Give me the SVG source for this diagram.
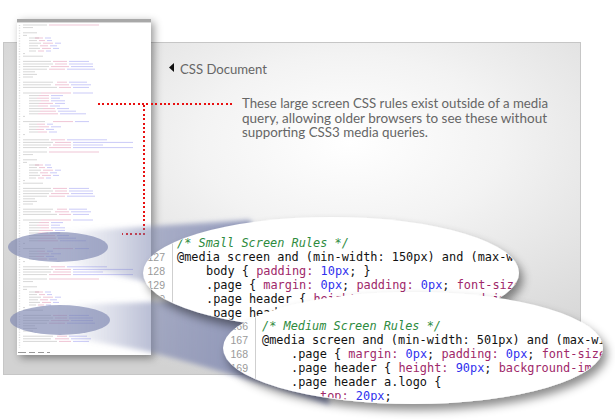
<svg xmlns="http://www.w3.org/2000/svg" xmlns:xlink="http://www.w3.org/1999/xlink" width="615" height="420" viewBox="0 0 615 420">
<style>
.ttl{font-family:Lato,"Open Sans","Liberation Sans",sans-serif;fill:#666}
.code{font-family:"DejaVu Sans Mono","Liberation Mono",monospace;font-size:11.9px;fill:#111;white-space:pre}
.cm{fill:#2e8b3e;font-style:italic}
.p{fill:#a0286a}
.v{fill:#3030ee}
.ln{font-family:"Liberation Sans",Arial,sans-serif;font-size:10.5px;fill:#9a9a9a;text-anchor:end}
.gut{stroke:#cfcfcf;stroke-width:1}
.dg{fill:none;stroke:#9a9a9a;stroke-width:0.8;opacity:0.5}
.dr{fill:none;stroke:#d05a8a;stroke-width:0.8;opacity:0.45}
.db{fill:none;stroke:#6a6ae8;stroke-width:0.8;opacity:0.45}
.dot{fill:none;stroke:#e81010;stroke-width:2;stroke-dasharray:2 2.4;shape-rendering:crispEdges}
</style>
<defs>
<radialGradient id="panelG" cx="0.6" cy="0.3" r="0.75">
<stop offset="0" stop-color="#ffffff"/>
<stop offset="0.35" stop-color="#f3f3f3"/>
<stop offset="1" stop-color="#d2d2d2"/>
</radialGradient>
<linearGradient id="beamG" gradientUnits="userSpaceOnUse" x1="60" y1="0" x2="250" y2="0">
<stop offset="0" stop-color="#7d86b0" stop-opacity="0"/>
<stop offset="0.3" stop-color="#7d86b0" stop-opacity="0.3"/>
<stop offset="0.55" stop-color="#7d86b0" stop-opacity="0.62"/>
<stop offset="1" stop-color="#7d86b0" stop-opacity="0.8"/>
</linearGradient>
<filter id="soft" x="-10%" y="-10%" width="120%" height="120%"><feGaussianBlur stdDeviation="2.5"/></filter>
<filter id="docSh" x="-20%" y="-10%" width="140%" height="120%">
<feGaussianBlur in="SourceAlpha" stdDeviation="4"/><feOffset dx="3" dy="3" result="b"/>
<feFlood flood-color="#000" flood-opacity="0.4"/><feComposite in2="b" operator="in"/>
<feMerge><feMergeNode/><feMergeNode in="SourceGraphic"/></feMerge>
</filter>
<filter id="eSh" x="-20%" y="-40%" width="140%" height="190%">
<feGaussianBlur in="SourceAlpha" stdDeviation="5"/><feOffset dx="4" dy="6" result="b"/>
<feFlood flood-color="#000" flood-opacity="0.45"/><feComposite in2="b" operator="in"/>
<feMerge><feMergeNode/><feMergeNode in="SourceGraphic"/></feMerge>
</filter>
<clipPath id="c1"><ellipse cx="331" cy="273" rx="188" ry="55"/></clipPath>
<clipPath id="c2"><ellipse cx="413" cy="348" rx="190" ry="55"/></clipPath>
<g id="blkA">
<path class="dg" d="M0 0h24M0 2.6h10M0 7.8h14M0 10.4h4M6 13h10M6 15.6h8M6 18.2h12M6 20.8h9M6 23.4h11M6 26h7M0 28.6h2M0 31.2h20M0 36.4h28M0 39h30M0 41.6h26M0 44.2h24M0 46.8h12M0 49.4h14M0 52h10M0 57.2h30M0 59.8h28M0 62.4h34"/>
<path class="dr" d="M26 0h50M12 13h8M16 15.6h6M20 18.2h10M17 20.8h8M19 23.4h9M15 26h6M30 36.4h14M32 39h12M28 41.6h18M26 44.2h16M34 57.2h10M32 59.8h14M36 62.4h12"/>
<path class="db" d="M22 13h6M24 15.6h5M32 18.2h6M27 20.8h7M30 23.4h6M23 26h5M46 36.4h20M46 39h24M48 41.6h22M44 44.2h28M46 57.2h18M48 59.8h20M50 62.4h16"/>
</g>
<g id="blkB">
<path class="dg" d="M0 0h18M6 2.6h10M6 5.2h8M6 7.8h12M6 10.4h10M6 13h9M6 15.6h14M6 18.2h11M6 20.8h9M0 23.4h2M0 28.6h22M6 31.2h8M6 33.8h10M6 36.4h7M6 39h9M0 41.6h2M0 46.8h26M0 49.4h30M0 52h28M0 54.6h24"/>
<path class="dr" d="M18 0h30M16 2.6h10M14 5.2h12M18 7.8h8M16 10.4h14M15 13h10M20 15.6h12M17 18.2h16M15 20.8h20M30 28.6h20M14 31.2h8M16 33.8h10M13 36.4h8M15 39h9M28 46.8h14M32 49.4h16M30 52h18M26 54.6h22"/>
<path class="db" d="M50 0h20M28 2.6h12M28 5.2h9M28 7.8h14M32 10.4h10M27 13h10M34 15.6h12M35 18.2h18M37 20.8h26M52 28.6h14M24 31.2h6M28 33.8h10M23 36.4h8M26 39h8M44 46.8h40M50 49.4h60M50 52h30M50 54.6h60"/>
</g>
</defs>

<rect width="615" height="420" fill="#ffffff"/>
<g id="panel">
<rect x="3.5" y="42.5" width="577" height="332" fill="url(#panelG)" stroke="#c6c6c6" stroke-width="1"/>
</g>

<g id="title">
<path d="M169 67.5L174 63V72Z" fill="#111"/>
<text class="ttl" x="180" y="73.5" font-size="14" textLength="87" lengthAdjust="spacingAndGlyphs">CSS Document</text>
</g>
<g id="note">
<text class="ttl" font-size="12.8">
<tspan x="242" y="108.3" textLength="306" lengthAdjust="spacingAndGlyphs">These large screen CSS rules exist outside of a media</tspan>
<tspan x="242" y="122.8" textLength="305" lengthAdjust="spacingAndGlyphs">query, allowing older browsers to see these without</tspan>
<tspan x="242" y="137.3" textLength="186" lengthAdjust="spacingAndGlyphs">supporting CSS3 media queries.</tspan>
</text>
</g>

<g id="document">
<rect x="17" y="19" width="134" height="336" fill="#ffffff" filter="url(#docSh)"/>
<rect x="17" y="19" width="134" height="3" fill="#a8a8a8"/>
<rect x="17" y="22" width="134" height="1" fill="#d8d8d8"/>
<path d="M19.5 25V348" stroke="#dadada" stroke-width="1.4" stroke-dasharray="1 1.6"/>
<use xlink:href="#blkA" x="23" y="25"/>
<use xlink:href="#blkB" x="23" y="93"/>
<use xlink:href="#blkA" x="23" y="152"/>
<use xlink:href="#blkB" x="23" y="220"/>
<use xlink:href="#blkA" x="23" y="279"/>
<path d="M18 352.5h8M29 352.5h6M38 352.5h6M47 352.5h3" stroke="#999" stroke-width="1"/>
<ellipse cx="58" cy="247" rx="50" ry="15" fill="#7d86b0" opacity="0.65"/>
<ellipse cx="60" cy="320" rx="50" ry="15" fill="#7d86b0" opacity="0.65"/>
</g>

<g id="connectors">
<path class="dot" d="M98 104H234"/>
<path class="dot" d="M144 105V234H122"/>
</g>

<g id="beams" filter="url(#soft)">
<path d="M58 232L250 220L300 330C240 322 200 300 160 285L58 262Z" fill="url(#beamG)"/>
<path d="M60 305C130 303 200 300 300 295L330 405C270 385 200 365 150 352L60 335Z" fill="url(#beamG)"/>
</g>

<g id="zoom-small">
<ellipse cx="331" cy="273" rx="188" ry="56" fill="#ffffff" filter="url(#eSh)"/>
<g clip-path="url(#c1)">
<line class="gut" x1="172.5" y1="215" x2="172.5" y2="335"/>
<text class="ln" x="165" y="247">126</text>
<text class="ln" x="165" y="261">127</text>
<text class="ln" x="165" y="275">128</text>
<text class="ln" x="165" y="289">129</text>
<text class="ln" x="165" y="303">130</text>
<text class="ln" x="165" y="317">131</text>
<text class="code" x="177" y="247"><tspan class="cm">/* Small Screen Rules */</tspan></text>
<text class="code" x="177" y="261">@media screen and (min-width: 150px) and (max-width: 500px) {</text>
<text class="code" x="206" y="275">body { <tspan class="p">padding:</tspan> <tspan class="v">10px</tspan>; }</text>
<text class="code" x="206" y="289">.page { <tspan class="p">margin:</tspan> <tspan class="v">0px</tspan>; <tspan class="p">padding:</tspan> <tspan class="v">0px</tspan>; <tspan class="p">font-size:</tspan> <tspan class="v">80%</tspan>; }</text>
<text class="code" x="206" y="303">.page header { <tspan class="p">height:</tspan> <tspan class="v">30px</tspan>; <tspan class="p">background-image:</tspan> none; }</text>
<text class="code" x="206" y="317">.page header a.logo {</text>
</g>
</g>

<g id="zoom-medium">
<ellipse cx="413" cy="348" rx="190" ry="56" fill="#ffffff" filter="url(#eSh)"/>
<g clip-path="url(#c2)">
<line class="gut" x1="255.5" y1="290" x2="255.5" y2="410"/>
<text class="ln" x="248" y="330">166</text>
<text class="ln" x="248" y="344">167</text>
<text class="ln" x="248" y="358">168</text>
<text class="ln" x="248" y="372">169</text>
<text class="ln" x="248" y="386">170</text>
<text class="ln" x="248" y="400">171</text>
<text class="code" x="262" y="330"><tspan class="cm">/* Medium Screen Rules */</tspan></text>
<text class="code" x="262" y="344">@media screen and (min-width: 501px) and (max-width: 800px) {</text>
<text class="code" x="291" y="358">.page { <tspan class="p">margin:</tspan> <tspan class="v">0px</tspan>; <tspan class="p">padding:</tspan> <tspan class="v">0px</tspan>; <tspan class="p">font-size:</tspan> <tspan class="v">90%</tspan>; }</text>
<text class="code" x="291" y="372">.page header { <tspan class="p">height:</tspan> <tspan class="v">90px</tspan>; <tspan class="p">background-image:</tspan> none; }</text>
<text class="code" x="291" y="386">.page header a.logo {</text>
<text class="code" x="320" y="400"><tspan class="p">top:</tspan> <tspan class="v">20px</tspan>;</text>
</g>
</g>
</svg>
